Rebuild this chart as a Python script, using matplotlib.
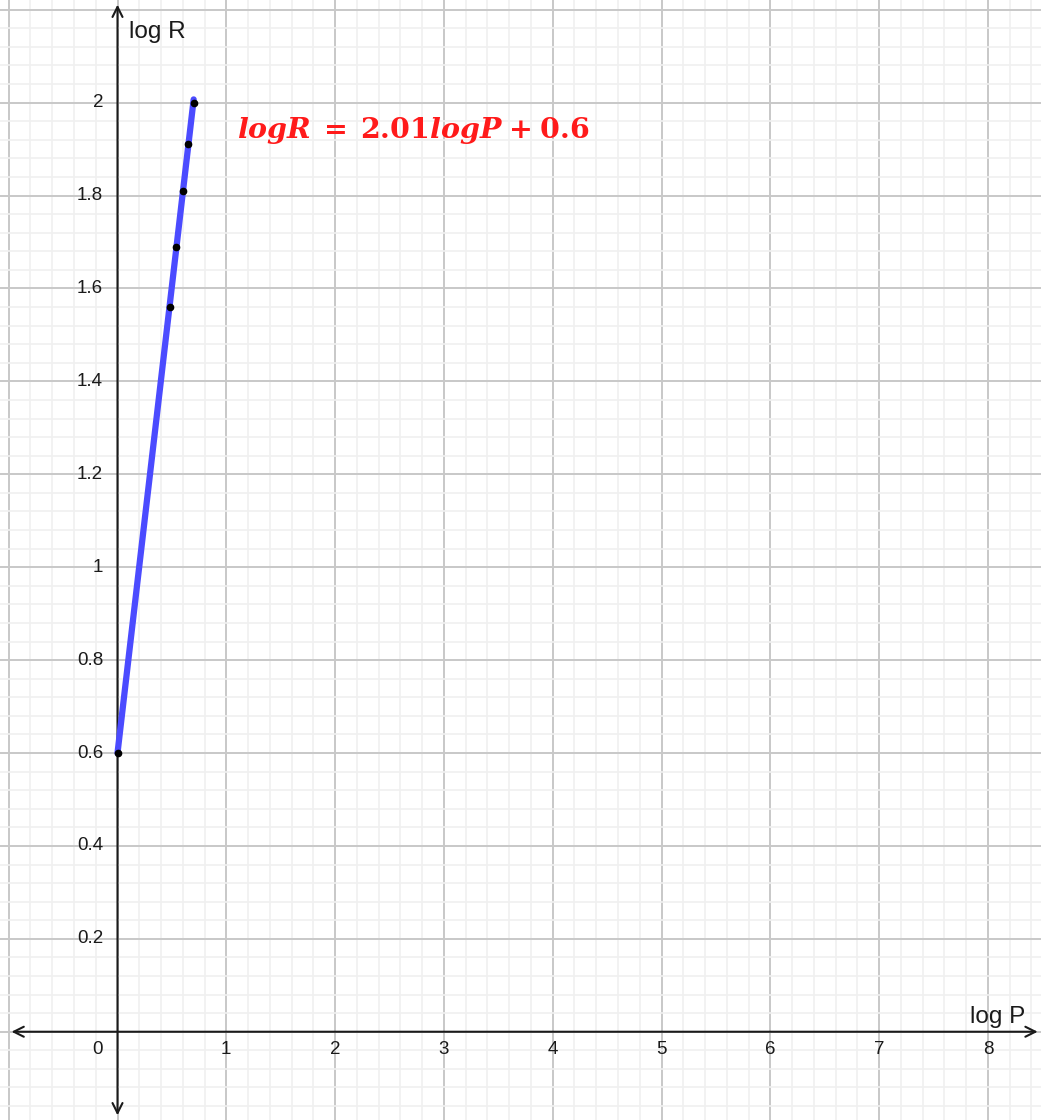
import numpy as np
import matplotlib.pyplot as plt
from matplotlib.ticker import MultipleLocator

plt.rcParams['mathtext.fontset'] = 'dejavuserif'

# data: log P vs log R
log_p = [0.0, 0.48, 0.54, 0.60, 0.65, 0.70]
log_r = [0.60, 1.56, 1.69, 1.81, 1.91, 2.00]
slope = 2.01
intercept = 0.6

x_ticks = [1, 2, 3, 4, 5, 6, 7, 8]
y_ticks = [0.2, 0.4, 0.6, 0.8, 1.0, 1.2, 1.4, 1.6, 1.8, 2.0]

XMIN, XMAX = -1.080, 8.488
YMIN, YMAX = -0.190, 2.221

fig = plt.figure(figsize=(10.41, 11.2), dpi=100)
ax = fig.add_axes([0, 0, 1, 1])
ax.set_xlim(XMIN, XMAX)
ax.set_ylim(YMIN, YMAX)
for s in ax.spines.values():
    s.set_visible(False)
ax.tick_params(which='both', length=0, labelbottom=False, labelleft=False)

# grid
ax.xaxis.set_major_locator(MultipleLocator(1))
ax.xaxis.set_minor_locator(MultipleLocator(0.2))
ax.yaxis.set_major_locator(MultipleLocator(0.2))
ax.yaxis.set_minor_locator(MultipleLocator(0.04))
ax.grid(which='minor', color='#f0f0f0', lw=1.2, zorder=0)
ax.grid(which='major', color='#c8c8c8', lw=1.4, zorder=0)
ax.set_axisbelow(True)

# axes with arrows
ax.annotate('', xy=(XMAX - 0.005, 0), xytext=(XMIN + 0.08, 0),
            arrowprops=dict(arrowstyle='<->', lw=1.5, color='#1a1a1a',
                            mutation_scale=18), zorder=3)
ax.annotate('', xy=(0, YMAX - 0.004), xytext=(0, YMIN + 0.004),
            arrowprops=dict(arrowstyle='<->', lw=1.5, color='#1a1a1a',
                            mutation_scale=18), zorder=3)

tick_font = dict(family='Liberation Sans', fontsize=13.5, color='#1a1a1a')
for t in x_ticks:
    ax.text(t, -0.039, str(t), ha='center', va='center', **tick_font)
ax.text(-0.186, -0.039, '0', ha='center', va='center', **tick_font)
for t in y_ticks:
    lab = ('%g' % t)
    ax.text(-0.133, t, lab, ha='right', va='center', **tick_font)

ax.text(8.34, 0.019, 'log P', ha='right', va='baseline',
        family='Liberation Sans', fontsize=17.5, color='#1a1a1a')
ax.text(0.106, 2.139, 'log R', ha='left', va='baseline',
        family='Liberation Sans', fontsize=17.5, color='#1a1a1a')

# fitted line and points
xs = np.array([log_p[0], log_p[-1]])
ax.plot(xs, slope * xs + intercept, color='#4b4bff', lw=4.5,
        solid_capstyle='round', zorder=4)
ax.plot(log_p, log_r, 'o', ms=4.5, color='black', mec='black', zorder=5)

ax.text(1.10, 1.925,
        r'$\mathbfit{logR}\;\mathbf{=}\;\mathbf{2.01}\mathbfit{logP}\;\mathbf{+}\;\mathbf{0.6}$',
        color='#ff1a1a', fontsize=20.5, ha='left', va='baseline', zorder=6)

fig.savefig('out.png', dpi=100)
